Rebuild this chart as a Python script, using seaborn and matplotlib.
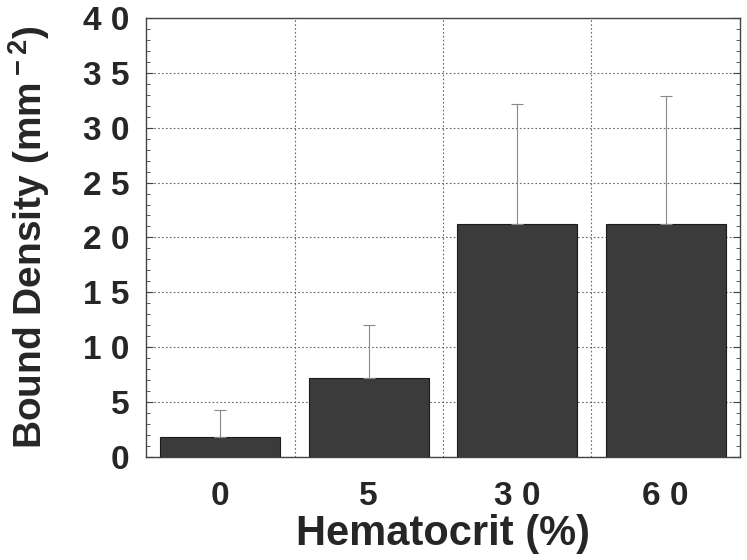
import numpy as np
import pandas as pd
import matplotlib
matplotlib.use("Agg")
import matplotlib.pyplot as plt
import seaborn as sns

# data
hematocrit = ["0", "5", "30", "60"]
tick_text = ["0", "5", "3 0", "6 0"]
density = [1.8, 7.2, 21.2, 21.2]
sd_up = [2.45, 4.8, 11.0, 11.7]
y_ticks = [0, 5, 10, 15, 20, 25, 30, 35, 40]
y_tick_text = ["0", "5", "1 0", "1 5", "2 0", "2 5", "3 0", "3 5", "4 0"]

sns.set_style("ticks")
plt.rcParams["font.family"] = ["Liberation Sans", "DejaVu Sans"]
plt.rcParams["font.weight"] = "bold"
plt.rcParams["mathtext.fontset"] = "custom"
plt.rcParams["mathtext.bf"] = "Liberation Sans:bold"
plt.rcParams["mathtext.rm"] = "Liberation Sans:bold"

df = pd.DataFrame({"Hematocrit": hematocrit, "Density": density})

fig = plt.figure(figsize=(7.47, 5.6), dpi=100)
ax = fig.add_axes([0.1955, 0.184, 0.795, 0.784])

sns.barplot(data=df, x="Hematocrit", y="Density", order=hematocrit,
            color="#3b3b3b", saturation=1, width=0.81,
            edgecolor="#1a1a1a", linewidth=0.8, errorbar=None, ax=ax, zorder=3)

xpos = np.arange(len(hematocrit))
ax.errorbar(xpos, density, yerr=[np.zeros(len(sd_up)), sd_up], fmt="none",
            ecolor="#888888", elinewidth=0.8, capsize=4, capthick=0.8, zorder=4)

ax.set_xlim(-0.5, 3.5)
ax.set_ylim(0, 40)

# grid: dotted horizontal at majors, vertical at category boundaries
ax.set_yticks(y_ticks)
ax.set_yticklabels(y_tick_text)
ax.set_yticks(np.arange(0, 41, 1), minor=True)
ax.set_xticks(xpos)
ax.set_xticklabels(tick_text)
ax.set_xticks([0.5, 1.5, 2.5], minor=True)
ax.grid(True, axis="y", which="major", linestyle=(0, (1.5, 2)), color="#666666", linewidth=0.8, zorder=0)
ax.grid(True, axis="x", which="minor", linestyle=(0, (1.5, 2)), color="#666666", linewidth=0.8, zorder=0)
ax.set_axisbelow(True)

ax.tick_params(axis="y", which="both", direction="in", left=True, right=True,
               labelsize=24, pad=12, color="#444444")
ax.tick_params(axis="y", which="major", length=5)
ax.tick_params(axis="y", which="minor", length=3)
ax.tick_params(axis="x", which="both", length=0, labelsize=24, pad=17)

for s in ax.spines.values():
    s.set_visible(True)
    s.set_color("#444444")
    s.set_linewidth(1.0)

ax.set_xlabel("Hematocrit (%)", fontsize=30, fontweight="bold", labelpad=2)
ax.set_ylabel(r"Bound Density (mm$^{\bf -2}$)", fontsize=28, fontweight="bold", labelpad=22)

fig.savefig("out.png", dpi=100)
